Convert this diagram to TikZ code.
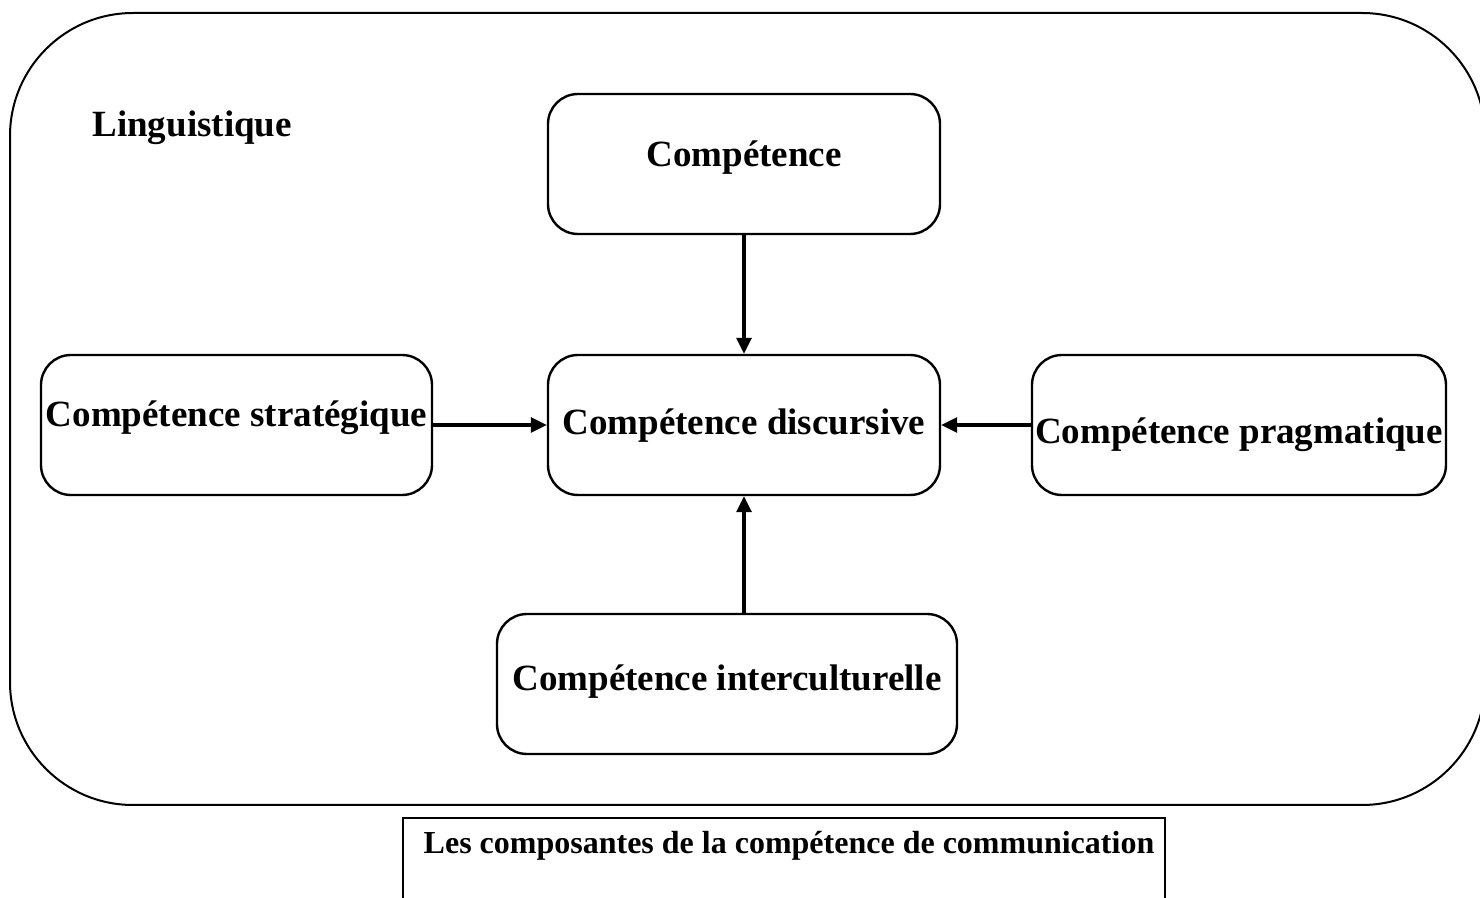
\documentclass[tikz,border=0pt]{standalone}
\usepackage{fontspec}
\setmainfont{Liberation Serif}
\usetikzlibrary{arrows.meta}
\begin{document}
\begin{tikzpicture}[x=0.5pt,y=-0.5pt,
  comp/.style={draw,line width=1.2pt,rounded corners=15pt,inner sep=0pt,
    minimum height=70pt,text height=14pt,text depth=4pt,
    font=\fontsize{18.5}{22}\selectfont\bfseries},
  link/.style={line width=1.6pt,-{Triangle[length=8pt,width=7.5pt]}}]
\useasboundingbox (0,0) rectangle (1480,898);
\draw [line width=1pt,rounded corners=61.5pt] (10,13) rectangle (1485,805);
\node [anchor=west,inner sep=0pt,font=\fontsize{18.5}{22}\selectfont\bfseries] (ling) at (92,128) {Linguistique};
\node [comp,minimum width=196pt,text depth=11pt] (top) at (744,164) {Compétence};
\node [comp,minimum width=196pt] (disc) at (744,425) {Compétence discursive};
\node [comp,minimum width=195.5pt,text depth=12pt] (strat) at (236.5,425) {Compétence stratégique};
\node [comp,minimum width=207pt,text height=23pt] (prag) at (1239,425) {Compétence pragmatique};
\node [comp,minimum width=230pt,text depth=7pt] (inter) at (727,684) {Compétence interculturelle};
\draw [link] (top.south) -- (disc.north);
\draw [link] (strat.east) -- (disc.west);
\draw [link] (prag.west) -- (disc.east);
\draw [link] (inter.north -| disc.south) -- (disc.south);
\draw [line width=1.2pt] (403,910) -- (403,818) -- (1165,818) -- (1165,910);
\node [font=\fontsize{16}{19}\selectfont\bfseries] (caption) at (789,846) {Les composantes de la compétence de communication};
\end{tikzpicture}
\end{document}
